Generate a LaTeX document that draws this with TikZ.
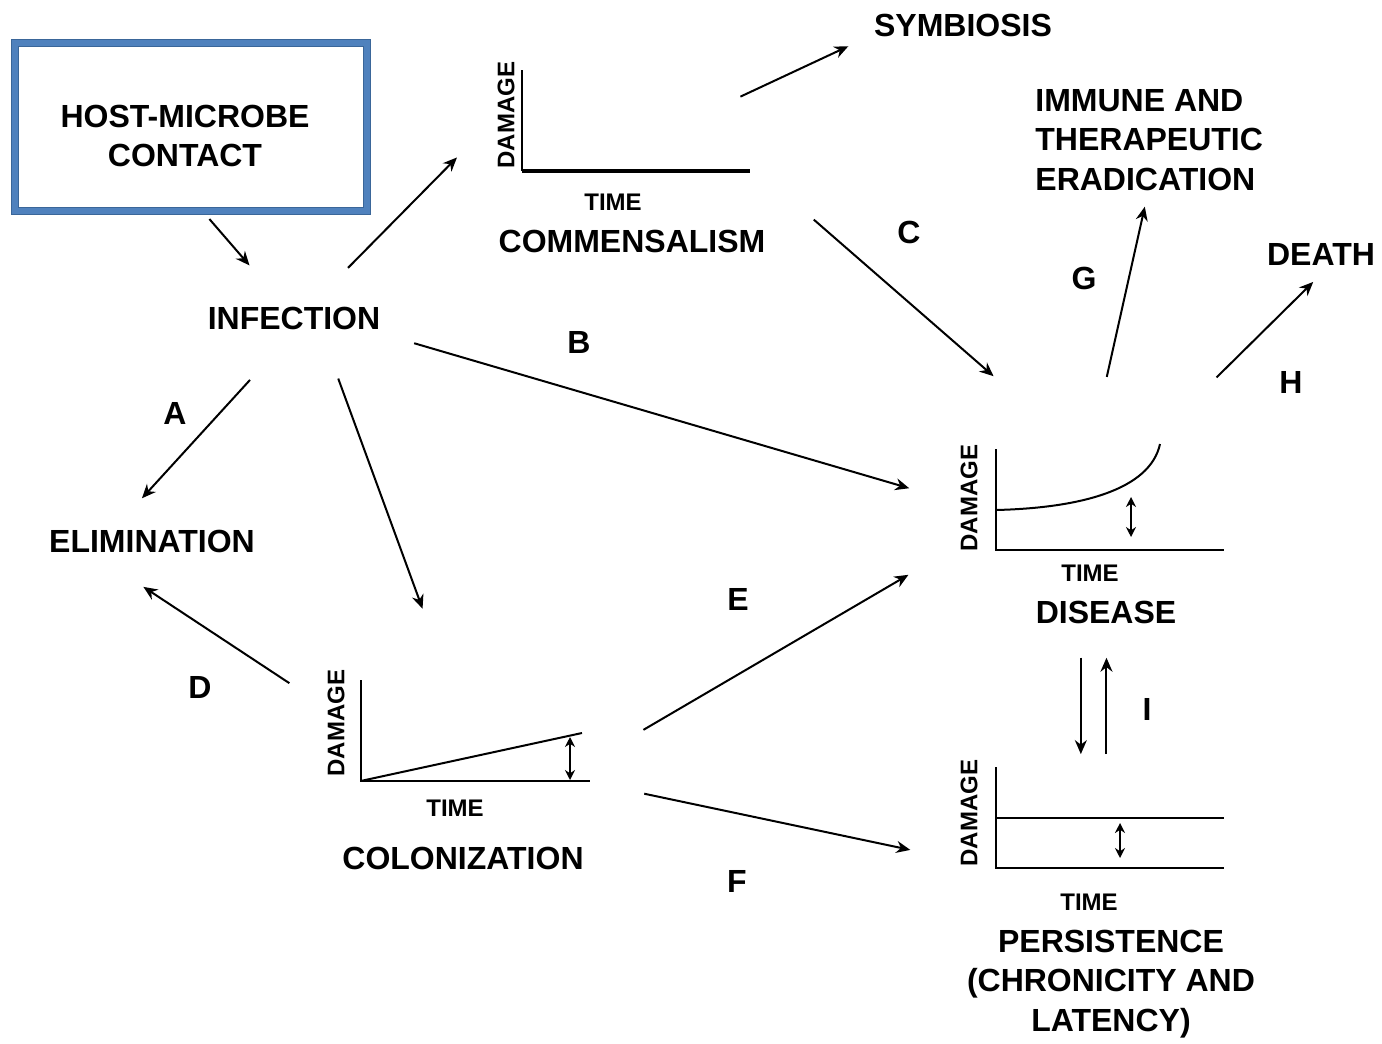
\documentclass[tikz,border=0pt]{standalone}
\usepackage{fontspec}
\setmainfont{Liberation Sans}
\usetikzlibrary{arrows.meta}
\definecolor{boxblue}{HTML}{4F81BD}
\definecolor{boxdark}{HTML}{3A6699}

\begin{document}
\begin{tikzpicture} [x=0.5pt,y=-0.5pt]
\tikzstyle{term}=[font=\bfseries\fontsize{16}{19.75}\selectfont, inner sep=0pt]
\tikzstyle{axlbl}=[font=\bfseries\fontsize{12}{14}\selectfont, inner sep=0pt]
\tikzstyle{plotbox}=[inner sep=0pt, minimum width=114pt, minimum height=50pt]
\tikzstyle{arr}=[-{Stealth[length=7pt,width=6pt]}, line width=1pt]
\tikzstyle{twoway}=[{Stealth[length=5pt,width=5pt]}-{Stealth[length=5pt,width=5pt]}, line width=0.9pt]
\useasboundingbox (0,0) rectangle (1382,1044);

% start box
\node at(191,127) (contact) [draw=boxdark, double=boxblue, double distance=2.6pt,
  line width=0.5pt, minimum width=176pt, minimum height=84pt]{};
\node at(185,136) (contacttxt) [term, align=center]{HOST-MICROBE\\CONTACT};
\node at(294,318) (inf) [term]{INFECTION};
\node at(152,541) (elim) [term]{ELIMINATION};
\node at(963,25) (symb) [term]{SYMBIOSIS};
\node at(1035,140) (erad) [term, anchor=west, align=left]{IMMUNE AND\\THERAPEUTIC\\ERADICATION};
\node at(1321,254) (death) [term]{DEATH};

% the four damage/time plots
\node at(636,120.5) (commplot) [plotbox]{};
\node at(1110,499.5) (displot) [plotbox]{};
\node at(475.5,730.5) (colplot) [plotbox]{};
\node at(1110,817.5) (persplot) [plotbox]{};
\node at(632,241) (commlbl) [term]{COMMENSALISM};
\node at(1106,612) (dislbl) [term]{DISEASE};
\node at(463,858) (collbl) [term]{COLONIZATION};
\node at(1111,984) (perslbl) [term, align=center]{PERSISTENCE\\(CHRONICITY AND\\LATENCY)};
\node at(613,202) (commtime) [axlbl]{TIME};
\node at(506,115) (commdmg) [axlbl, rotate=90]{DAMAGE};
\node at(1090,573) (distime) [axlbl]{TIME};
\node at(969,498) (disdmg) [axlbl, rotate=90]{DAMAGE};
\node at(455,808) (coltime) [axlbl]{TIME};
\node at(336,723) (coldmg) [axlbl, rotate=90]{DAMAGE};
\node at(1089,902) (perstime) [axlbl]{TIME};
\node at(969,813) (persdmg) [axlbl, rotate=90]{DAMAGE};

\draw [line width=1pt] (commplot.north west) -- (commplot.south west);
\draw [line width=2pt] (commplot.south west) -- (commplot.south east);
\draw [line width=1pt] (displot.north west) |- (displot.south east);
\draw [line width=1pt] (996,510) .. controls (1080,508) and (1150,490) .. (1160,444);
\draw [twoway] (1131,497) -- (1131,537);
\draw [line width=1pt] (colplot.north west) |- (colplot.south east);
\draw [line width=1pt] (colplot.south west) -- (582,733);
\draw [twoway] (570,737) -- (570,780);
\draw [line width=1pt] (persplot.north west) |- (persplot.south east);
\draw [line width=1pt] (persplot.west) -- (persplot.east);
\draw [twoway] (1120,823) -- (1120,858);

% route letters
\node at(175,413) (lA) [term]{A};
\node at(579,342) (lB) [term]{B};
\node at(909,232) (lC) [term]{C};
\node at(200,687) (lD) [term]{D};
\node at(738,599) (lE) [term]{E};
\node at(737,881) (lF) [term]{F};
\node at(1084,278) (lG) [term]{G};
\node at(1291,382) (lH) [term]{H};
\node at(1147,709) (lI) [term]{I};

\draw (contact.-82) edge [arr, shorten <=5pt, shorten >=27pt] (inf.128);
\draw (inf.36) edge [arr, shorten <=27pt, shorten >=46pt] (commplot.166);
\draw (inf.-81) edge [arr, shorten <=34pt, shorten >=21pt] (elim.163);
\draw (inf.-9.5) edge [arr, shorten <=24pt, shorten >=45pt] (displot.-173);
\draw (inf.-24.6) edge [arr, shorten <=26pt, shorten >=38pt] (colplot.118);
\draw (commplot.14.7) edge [arr, shorten <=-5.5pt, shorten >=14pt] (symb.-174);
\draw (commplot.-21) edge [arr, shorten <=42pt, shorten >=55.5pt] (displot.123);
\draw (colplot.west) edge [arr, shorten <=43pt, shorten >=31pt] (elim.-169.4);
\draw (colplot.-15.5) edge [arr, shorten <=31pt, shorten >=50.5pt] (displot.-168.5);
\draw (colplot.-25.4) edge [arr, shorten <=31pt, shorten >=43.6pt] (persplot.south west);
\draw (displot.111) edge [arr, shorten <=37pt, shorten >=8pt] (erad.-91.6);
\draw (displot.56.2) edge [arr, shorten <=51pt, shorten >=11.75pt] (death.-52.9);
\draw (dislbl.-155) edge [arr, shorten <=17pt, shorten >=6.5pt] (dislbl.-155 |- persplot.north);
\draw (persplot.94.6) edge [arr, shorten <=6.5pt, shorten >=17pt] (persplot.94.6 |- dislbl.south);
\end{tikzpicture}
\end{document}
